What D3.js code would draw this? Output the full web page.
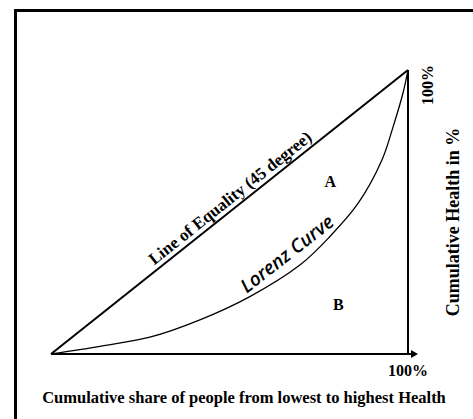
<!DOCTYPE html>
<html><head><meta charset="utf-8">
<script src="https://cdnjs.cloudflare.com/ajax/libs/d3/7.8.5/d3.min.js"></script>
<style>body{margin:0;background:#fff}svg{display:block}</style>
</head><body>
<script>
// Data
const equalityX = [0, 1];
const equalityY = [0, 1];
const lorenzX = [0, 0.137, 0.277, 0.417, 0.557, 0.697, 0.78, 0.86, 0.927, 0.958, 0.986, 1];
const lorenzY = [0, 0.027, 0.059, 0.12, 0.202, 0.313, 0.412, 0.53, 0.683, 0.799, 0.919, 1];
const tickLabels = ["100%"];
const xTitle = "Cumulative share of people from lowest to highest Health";
const yTitle = "Cumulative Health in %";
const areaLabels = ["A", "B"];

const W = 473, H = 419;
const svg = d3.select("body").append("svg").attr("width", W).attr("height", H);
const serif = "'Liberation Serif','Times New Roman',serif";

svg.append("rect").attr("x", 15.5).attr("y", 10.5).attr("width", 600).attr("height", 600)
  .attr("fill", "none").attr("stroke", "#000").attr("stroke-width", 3);

const x = d3.scaleLinear().domain([0, 1]).range([51, 408]);
const y = d3.scaleLinear().domain([0, 1]).range([354, 70]);

// axes
svg.append("line").attr("x1", x(0)).attr("y1", y(0)).attr("x2", x(1) + 4).attr("y2", y(0))
  .attr("stroke", "#000").attr("stroke-width", 2);
svg.append("path").attr("d", `M${x(1)+3},${y(0)-4}L${x(1)+10},${y(0)}L${x(1)+3},${y(0)+4}Z`).attr("fill", "#000");
svg.append("line").attr("x1", x(1)).attr("y1", y(0)).attr("x2", x(1)).attr("y2", y(1))
  .attr("stroke", "#000").attr("stroke-width", 2);

// equality line
const line = d3.line().x(d => x(d[0])).y(d => y(d[1]));
svg.append("path").datum(equalityX.map((v, i) => [v, equalityY[i]])).attr("d", line)
  .attr("fill", "none").attr("stroke", "#000").attr("stroke-width", 2);

// lorenz curve
const curve = d3.line().x(d => x(d[0])).y(d => y(d[1])).curve(d3.curveCatmullRom.alpha(0.5));
svg.append("path").datum(lorenzX.map((v, i) => [v, lorenzY[i]])).attr("d", curve)
  .attr("fill", "none").attr("stroke", "#000").attr("stroke-width", 1.3);

// equality label
const ang = Math.atan2(y(1) - y(0), x(1) - x(0)) * 180 / Math.PI;
svg.append("text").attr("transform", `translate(${x(0.52)},${y(0.52)}) rotate(${ang})`)
  .attr("y", -5)
  .attr("text-anchor", "middle").attr("font-family", serif).attr("font-weight", "bold")
  .attr("font-size", 17).text("Line of Equality (45 degree)");

// lorenz label
svg.append("text").attr("transform", `translate(291,259) rotate(-38)`)
  .attr("text-anchor", "middle").attr("font-family", "'Open Sans',sans-serif").attr("font-style", "italic")
  .attr("font-weight", 600)
  .attr("font-size", 19).text("Lorenz Curve");

// area labels
svg.append("text").attr("x", x(0.782)).attr("y", 187).attr("text-anchor", "middle")
  .attr("font-family", serif).attr("font-weight", "bold").attr("font-size", 16).text(areaLabels[0]);
svg.append("text").attr("x", x(0.805)).attr("y", 310).attr("text-anchor", "middle")
  .attr("font-family", serif).attr("font-weight", "bold").attr("font-size", 16).text(areaLabels[1]);

// tick labels
svg.append("text").attr("x", x(1)).attr("y", y(0) + 22).attr("text-anchor", "middle")
  .attr("font-family", serif).attr("font-weight", "bold").attr("font-size", 16).text(tickLabels[0]);
svg.append("text").attr("transform", `translate(${x(1)+25},${y(1)+15}) rotate(-90)`).attr("text-anchor", "middle")
  .attr("font-family", serif).attr("font-weight", "bold").attr("font-size", 16).text(tickLabels[0]);

// titles
svg.append("text").attr("x", 244).attr("y", 403).attr("text-anchor", "middle")
  .attr("font-family", serif).attr("font-weight", "bold").attr("font-size", 16.5).text(xTitle);
svg.append("text").attr("transform", `translate(459,222) rotate(-90)`).attr("text-anchor", "middle")
  .attr("font-family", serif).attr("font-weight", "bold").attr("font-size", 18).text(yTitle);
</script>
</body></html>
